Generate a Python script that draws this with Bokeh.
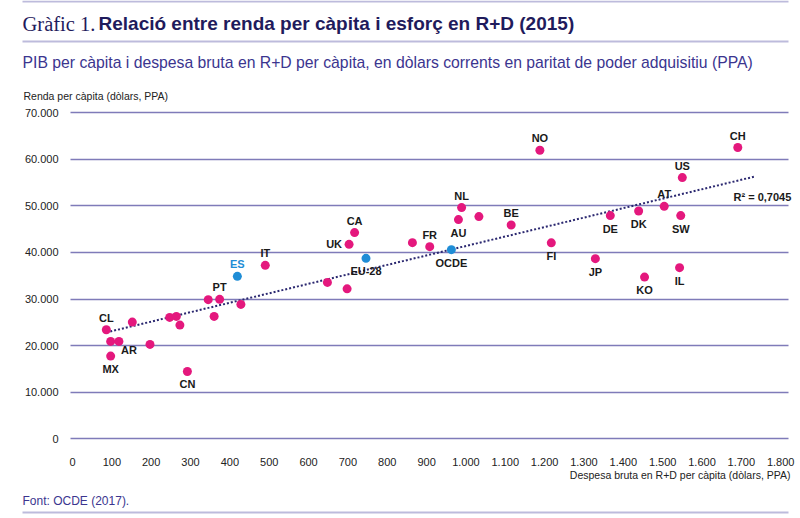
from bokeh.plotting import figure
from bokeh.models import ColumnDataSource, Label, BoxAnnotation, FixedTicker
from bokeh.core.properties import value
from bokeh.embed import file_html
from bokeh.resources import INLINE

# dades: codi de país (buit = punt sense etiqueta), despesa R+D i PIB per càpita
codes = ["CL", "", "AR", "MX", "", "", "", "", "", "CN",
         "", "PT", "", "", "ES", "IT", "", "", "UK", "CA",
         "EU-28", "", "FR", "OCDE", "AU", "NL", "", "BE", "FI", "NO",
         "CH", "US", "AT", "DK", "DE", "SW", "JP", "KO", "IL"]
rd_per_capita = [86, 97, 118, 97, 152, 197, 247, 264, 273, 292,
                 345, 374, 360, 428, 419, 490, 648, 698, 703, 717,
                 746, 864, 908, 963, 981, 989, 1033, 1115, 1217, 1188,
                 1691, 1550, 1504, 1439, 1367, 1546, 1329, 1454, 1543]
gdp_per_capita = [23430, 20920, 20920, 17770, 25060, 20280, 26070, 26290, 24420, 14480,
                  29870, 29940, 26290, 28860, 34870, 37230, 33580, 32190, 41740, 44250,
                  38730, 42100, 41240, 40600, 47040, 49610, 47680, 45880, 42060, 61910,
                  62490, 56050, 49890, 48880, 47900, 47900, 38670, 34720, 36740]
highlighted = ["ES", "EU-28", "OCDE"]

# recta de tendència
trend_x = [86, 1734]
trend_y = [22850, 56270]
r2_text = "R² = 0,7045"

x_ticks = [0, 100, 200, 300, 400, 500, 600, 700, 800, 900,
           1000, 1100, 1200, 1300, 1400, 1500, 1600, 1700, 1800]
x_tick_labels = ["0", "100", "200", "300", "400", "500", "600", "700", "800", "900",
                 "1.000", "1.100", "1.200", "1.300", "1.400", "1.500", "1.600", "1.700", "1.800"]
y_ticks = [0, 10000, 20000, 30000, 40000, 50000, 60000, 70000]
y_tick_labels = ["0", "10.000", "20.000", "30.000", "40.000", "50.000", "60.000", "70.000"]

PINK = "#e4187d"
BLUE = "#1f8dd6"
NAVY = "#1f1b5c"
PURPLE = "#3b358f"
GRID = "#7f7bb9"
RULE = "#bdbbdc"
SANS = "Liberation Sans"

W, H = 800, 518

# on va cada etiqueta respecte del punt (píxels)
labels_below = {"MX", "CN", "EU-28", "OCDE", "AU", "FI", "DK", "DE", "SW", "JP", "KO", "IL"}


def label_offset(code):
    if code == "UK":
        return -15, 0
    if code == "AR":
        return 10, 9
    if code in labels_below:
        return 0, 13
    return 0, -12


offsets = [label_offset(c) for c in codes]
colors = [BLUE if c in highlighted else PINK for c in codes]
text_colors = [BLUE if c == "ES" else "#1a1a1a" for c in codes]

source = ColumnDataSource(data=dict(
    x=rd_per_capita, y=gdp_per_capita, code=codes, color=colors,
    text_color=text_colors,
    dx=[o[0] for o in offsets], dy=[o[1] for o in offsets],
))

# el marc ocupa tot el llenç; els eixos es dibuixen en una posició fixa
p = figure(width=W, height=H, output_backend="svg", toolbar_location=None,
           x_range=(-183.0, 1850.4), y_range=(-17046, 94018),
           min_border=0, min_border_left=0, min_border_right=0,
           min_border_top=0, min_border_bottom=0)
p.outline_line_color = None
p.background_fill_color = "white"

p.xgrid.grid_line_color = None
p.ygrid.grid_line_color = GRID
p.ygrid.grid_line_width = 1.5
p.ygrid.ticker = FixedTicker(ticks=y_ticks)
p.ygrid.cross_bounds = (-5, 1820)

for ax in (p.xaxis[0], p.yaxis[0]):
    ax.axis_line_color = None
    ax.major_tick_line_color = None
    ax.minor_tick_line_color = None
    ax.major_label_text_font = SANS
    ax.major_label_text_font_size = "11px"
    ax.major_label_text_color = "#222222"

p.xaxis.ticker = FixedTicker(ticks=x_ticks)
p.xaxis.major_label_overrides = dict(zip(x_ticks, x_tick_labels))
p.xaxis.major_label_standoff = 6
p.xaxis.fixed_location = -1500
p.yaxis.ticker = FixedTicker(ticks=y_ticks)
p.yaxis.major_label_overrides = dict(zip(y_ticks, y_tick_labels))
p.yaxis.major_label_standoff = 6
p.yaxis.fixed_location = -5

# tendència
p.line(trend_x, trend_y, line_color="#2b2870", line_width=2, line_dash="2 2")

# punts i etiquetes
p.scatter("x", "y", source=source, size=9, fill_color="color", line_color=None)
p.text("x", "y", text="code", source=source, x_offset="dx", y_offset="dy",
       text_align="center", text_baseline="middle", text_color="text_color",
       text_font=value(SANS), text_font_style="bold", text_font_size="11px")


def screen_label(x, top, text, **kw):
    # top: distància en píxels des de dalt del llenç
    p.add_layout(Label(x=x, y=H - top, x_units="screen", y_units="screen", text=text,
                       text_baseline="middle", **kw))


screen_label(733, 196, r2_text, text_font=SANS, text_font_style="bold",
             text_font_size="11px", text_color="#1a1a1a")

# títols i textos
screen_label(22, 23, "Gràfic 1.", text_font="Liberation Serif",
             text_font_size="20.5px", text_color=NAVY)
screen_label(98, 23, "Relació entre renda per càpita i esforç en R+D (2015)",
             text_font=SANS, text_font_style="bold", text_font_size="19px", text_color=NAVY)
screen_label(22, 61.5,
             "PIB per càpita i despesa bruta en R+D per càpita, en dòlars corrents en paritat de poder adquisitiu (PPA)",
             text_font=SANS, text_font_size="15.75px", text_color=PURPLE)
screen_label(23, 95, "Renda per càpita (dòlars, PPA)",
             text_font=SANS, text_font_size="10.5px", text_color="#222222")
screen_label(790, 474, "Despesa bruta en R+D per càpita (dòlars, PPA)",
             text_font=SANS, text_font_size="10.5px", text_align="right", text_color="#222222")
screen_label(22, 500, "Font: OCDE (2017).",
             text_font=SANS, text_font_size="12px", text_color=PURPLE)

# filets horitzontals
for top in (0, 40, 511):
    p.add_layout(BoxAnnotation(left=22, right=788, bottom=H - top - 2, top=H - top,
                               left_units="screen", right_units="screen",
                               bottom_units="screen", top_units="screen",
                               fill_color=RULE, fill_alpha=1, line_color=None))

open("out.html", "w").write(file_html(p, INLINE))
